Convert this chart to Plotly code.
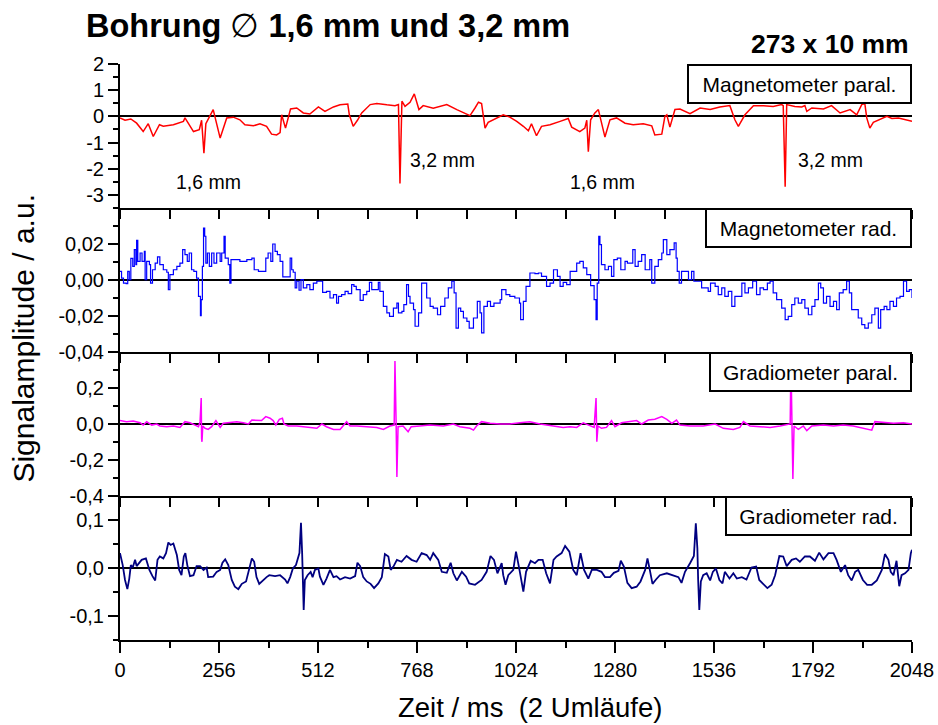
import plotly.graph_objects as go

# ---- Zeitachse / Achsen-Beschriftung ----
x_tickvals = [0, 256, 512, 768, 1024, 1280, 1536, 1792, 2048]
x_ticktext = ["0", "256", "512", "768", "1024", "1280", "1536", "1792", "2048"]

# ---- Magnetometer parallel (rot) ----
magpar_t = [0, 13, 28, 43, 60, 73, 86, 102, 112, 138, 164, 168, 190, 205, 211, 217, 222, 233, 241,
            259, 276, 293, 310, 323, 345, 362, 379, 392, 405, 414, 418, 428, 433, 441, 457, 474, 491,
            513, 530, 552, 569, 589, 593, 603, 614, 625, 647, 664, 690, 711, 720, 724, 729, 737, 750,
            761, 773, 784, 810, 845, 871, 888, 905, 918, 927, 935, 944, 952, 974, 991, 1008, 1026,
            1043, 1056, 1064, 1077, 1090, 1112, 1138, 1159, 1168, 1189, 1202, 1207, 1211, 1217, 1228,
            1237, 1254, 1267, 1284, 1306, 1327, 1353, 1375, 1383, 1401, 1409, 1414, 1422, 1435, 1448,
            1474, 1500, 1526, 1551, 1577, 1590, 1599, 1616, 1638, 1664, 1689, 1711, 1715, 1720, 1724,
            1745, 1763, 1771, 1776, 1789, 1819, 1840, 1862, 1888, 1905, 1918, 1926, 1931, 1939, 1948,
            1983, 1996, 2013, 2034, 2048]
magpar_v = [-0.06, -0.15, -0.10, -0.26, -0.58, -0.28, -0.77, -0.32, -0.38, -0.32, -0.19, -0.06, -0.58,
            -0.51, -0.15, -1.41, -0.28, 0.06, 0.26, -0.83, -0.06, -0.03, -0.13, -0.32, -0.36, -0.28,
            -0.38, -0.68, -0.71, -0.62, 0.06, -0.45, -0.19, 0.28, 0.32, 0.13, 0.09, 0.36, 0.19, 0.36,
            0.44, 0.47, 0.06, -0.38, -0.15, 0.13, 0.45, 0.49, 0.44, 0.41, 0.45, -2.56, 0.58, 0.38, 0.54,
            0.86, 0.26, 0.41, 0.31, 0.45, 0.26, 0.13, 0.03, 0.32, 0.54, 0.49, -0.45, -0.23, -0.06, 0.06,
            -0.03, -0.19, -0.38, -0.55, -0.28, -0.74, -0.38, -0.32, -0.19, -0.08, -0.41, -0.58, -0.45,
            -0.15, -1.35, -0.13, 0.13, 0.26, -0.79, -0.13, -0.06, -0.26, -0.32, -0.28, -0.36, -0.71,
            -0.68, 0.0, 0.06, -0.41, 0.26, 0.28, 0.10, 0.32, 0.26, 0.36, 0.41, -0.13, -0.38, 0.06, 0.41,
            0.41, 0.38, 0.45, 0.41, -2.69, 0.45, 0.38, 0.36, 0.41, 0.19, 0.32, 0.28, 0.41, 0.13, 0.26,
            0.06, 0.45, 0.49, -0.06, -0.45, -0.23, 0.0, -0.08, -0.06, -0.15, -0.19]

# ---- Magnetometer radial (blau) ----
magrad_t = [0, 4, 9, 16, 20, 24, 28, 33, 37, 41, 43, 46, 52, 57, 63, 65, 69, 76, 79, 84, 91, 97, 103,
            112, 121, 125, 129, 138, 147, 155, 162, 168, 174, 179, 185, 191, 198, 203, 208, 210, 213,
            216, 219, 222, 226, 231, 237, 243, 250, 259, 263, 269, 272, 280, 284, 287, 297, 310, 328,
            341, 347, 358, 371, 377, 383, 390, 395, 401, 407, 414, 421, 431, 440, 444, 448, 453, 457,
            463, 468, 474, 483, 491, 500, 509, 517, 524, 534, 543, 552, 560, 565, 573, 582, 590, 599,
            605, 611, 621, 629, 638, 645, 651, 662, 668, 672, 681, 690, 697, 703, 707, 716, 720, 729,
            734, 741, 746, 750, 759, 763, 772, 780, 789, 793, 802, 810, 821, 829, 840, 849, 858, 864,
            869, 875, 881, 888, 897, 903, 914, 924, 931, 935, 941, 950, 958, 967, 983, 987, 998, 1008,
            1021, 1033, 1036, 1043, 1050, 1060, 1073, 1082, 1090, 1103, 1112, 1121, 1131, 1138, 1146,
            1155, 1164, 1181, 1189, 1198, 1207, 1217, 1226, 1231, 1234, 1238, 1241, 1245, 1254, 1263,
            1271, 1277, 1286, 1295, 1306, 1312, 1326, 1332, 1340, 1349, 1358, 1370, 1375, 1383, 1392,
            1401, 1405, 1414, 1422, 1433, 1438, 1441, 1446, 1452, 1464, 1470, 1478, 1484, 1495, 1504,
            1513, 1521, 1527, 1539, 1547, 1556, 1564, 1573, 1582, 1590, 1599, 1608, 1616, 1625, 1636,
            1646, 1655, 1664, 1674, 1681, 1689, 1698, 1711, 1720, 1728, 1737, 1745, 1754, 1763, 1771,
            1780, 1789, 1797, 1806, 1812, 1819, 1827, 1836, 1845, 1853, 1860, 1870, 1879, 1886, 1892,
            1901, 1909, 1918, 1926, 1935, 1944, 1952, 1961, 1967, 1976, 1983, 1991, 2000, 2008, 2017,
            2026, 2034, 2041, 2048]
magrad_v = [0.0048, 0.0010, -0.0017, -0.0020, 0.0048, 0.0002, 0.0120, 0.0076, 0.0169, 0.0085, 0.0220,
            0.0104, 0.0150, 0.0104, 0.0159, 0.0002, 0.0104, 0.0085, -0.0017, 0.0057, 0.0094, 0.0128,
            0.0085, 0.0057, 0.0043, -0.0054, 0.0030, 0.0057, 0.0076, 0.0094, 0.0169, 0.0141, 0.0104,
            0.0150, 0.0057, 0.0048, 0.0010, -0.0091, -0.0198, -0.0109, 0.0076, 0.0289, 0.0243, 0.0094,
            0.0150, 0.0076, 0.0150, 0.0094, 0.0150, 0.0104, 0.0150, 0.0243, 0.0122, 0.0085, -0.0017,
            0.0113, 0.0113, 0.0104, 0.0113, 0.0122, 0.0057, 0.0048, 0.0048, 0.0122, 0.0150, 0.0104,
            0.0200, 0.0159, 0.0141, 0.0104, 0.0017, 0.0017, 0.0122, 0.0057, 0.0043, -0.0044, -0.0007,
            -0.0057, 0.0002, -0.0044, -0.0026, -0.0054, -0.0017, -0.0007, -0.0007, -0.0069, -0.0063,
            -0.0100, -0.0081, -0.0128, -0.0091, -0.0081, -0.0063, -0.0076, -0.0026, -0.0035, -0.0054,
            -0.0113, -0.0081, -0.0063, -0.0013, -0.0054, -0.0054, -0.0013, -0.0063, -0.0146, -0.0183,
            -0.0202, -0.0202, -0.0156, -0.0128, -0.0183, -0.0174, -0.0137, -0.0026, -0.0091, -0.0128,
            -0.0165, -0.0257, -0.0183, -0.0017, -0.0017, -0.0100, -0.0146, -0.0156, -0.0193, -0.0146,
            -0.0100, -0.0044, -0.0007, -0.0072, -0.0267, -0.0156, -0.0174, -0.0211, -0.0230, -0.0267,
            -0.0211, -0.0119, -0.0183, -0.0294, -0.0146, -0.0119, -0.0146, -0.0128, -0.0109, -0.0054,
            -0.0081, -0.0091, -0.0100, -0.0128, -0.0220, -0.0119, -0.0035, 0.0039, 0.0035, 0.0039,
            0.0020, -0.0035, -0.0017, 0.0057, 0.0020, -0.0035, -0.0013, -0.0026, 0.0048, 0.0094,
            0.0104, 0.0067, 0.0030, -0.0031, -0.0109, -0.0220, -0.0017, 0.0243, 0.0196, 0.0085, 0.0057,
            0.0076, 0.0020, 0.0113, 0.0122, 0.0057, 0.0104, 0.0094, 0.0169, 0.0076, 0.0104, 0.0141,
            0.0057, 0.0113, -0.0017, 0.0076, 0.0113, 0.0150, 0.0224, 0.0141, 0.0169, 0.0206, 0.0122,
            0.0048, -0.0017, 0.0048, 0.0048, 0.0002, 0.0048, -0.0007, -0.0007, -0.0044, -0.0044,
            -0.0063, -0.0017, -0.0035, -0.0081, -0.0044, -0.0091, -0.0063, -0.0146, -0.0091, -0.0091,
            -0.0017, -0.0072, -0.0044, -0.0007, -0.0081, -0.0044, -0.0054, -0.0017, -0.0007, -0.0072,
            -0.0109, -0.0156, -0.0220, -0.0202, -0.0137, -0.0100, -0.0128, -0.0109, -0.0156, -0.0193,
            -0.0146, -0.0109, -0.0017, -0.0044, -0.0128, -0.0091, -0.0146, -0.0119, -0.0165, -0.0072,
            -0.0054, -0.0007, -0.0072, -0.0165, -0.0165, -0.0211, -0.0248, -0.0267, -0.0239, -0.0193,
            -0.0156, -0.0267, -0.0165, -0.0146, -0.0165, -0.0119, -0.0146, -0.0100, -0.0091, -0.0007,
            -0.0063, -0.0054, -0.0100]

# ---- Gradiometer parallel (magenta) ----
gradpar_t = [0, 17, 34, 52, 60, 69, 82, 95, 103, 121, 138, 155, 168, 181, 194, 203, 207, 210, 211, 212,
             214, 220, 228, 237, 248, 259, 267, 284, 302, 319, 332, 341, 353, 366, 377, 388, 396, 403,
             412, 420, 424, 435, 457, 483, 509, 522, 534, 552, 569, 586, 595, 612, 638, 664, 681, 698,
             709, 711, 714, 716, 719, 732, 745, 753, 775, 801, 836, 862, 879, 905, 914, 922, 935, 957,
             983, 1008, 1034, 1060, 1086, 1103, 1121, 1146, 1164, 1181, 1198, 1215, 1226, 1231, 1233,
             1236, 1245, 1258, 1271, 1280, 1297, 1314, 1336, 1349, 1366, 1383, 1401, 1414, 1427, 1439,
             1448, 1474, 1508, 1539, 1560, 1586, 1603, 1612, 1629, 1655, 1681, 1707, 1733, 1735, 1738,
             1740, 1743, 1754, 1767, 1776, 1789, 1819, 1845, 1870, 1896, 1922, 1944, 1952, 1974, 2000,
             2026, 2048]
gradpar_v = [0.019, 0.013, 0.017, 0.007, -0.006, 0.013, -0.006, 0.0, -0.011, -0.015, -0.011, -0.019,
             0.013, 0.007, -0.006, -0.015, 0.013, 0.144, -0.080, -0.099, -0.011, -0.024, -0.030,
             -0.015, 0.019, -0.019, 0.004, 0.007, 0.013, 0.007, 0.0, 0.022, 0.022, 0.019, 0.041, 0.032,
             0.019, -0.006, 0.026, 0.032, 0.0, -0.011, -0.011, -0.019, -0.024, 0.0, -0.015, -0.030,
             -0.030, 0.013, -0.011, -0.011, -0.015, -0.019, -0.030, -0.011, -0.006, 0.350, 0.004,
             -0.295, -0.015, -0.011, -0.043, -0.015, -0.011, -0.006, -0.011, 0.0, -0.015, -0.024,
             -0.034, -0.011, 0.013, 0.004, 0.0, 0.0, 0.007, 0.013, 0.0, -0.006, -0.011, -0.019, -0.015,
             -0.019, 0.007, -0.011, -0.019, 0.144, -0.099, -0.011, -0.024, -0.019, 0.019, -0.015,
             0.007, 0.013, 0.019, 0.0, 0.022, 0.026, 0.041, 0.026, 0.004, 0.022, -0.006, -0.011, -0.011,
             0.0, -0.024, -0.030, -0.019, 0.013, -0.011, -0.015, -0.019, -0.011, 0.0, 0.340, 0.004,
             -0.305, -0.011, -0.030, -0.011, -0.037, -0.011, -0.006, -0.011, -0.006, -0.011, -0.024,
             -0.034, 0.013, 0.007, 0.004, 0.007, 0.0]

# ---- Gradiometer radial (dunkelblau) ----
gradrad_t = [0, 7, 13, 19, 24, 28, 33, 39, 43, 50, 56, 67, 76, 84, 91, 97, 103, 112, 119, 125, 131, 138,
             147, 153, 159, 165, 169, 174, 181, 190, 198, 207, 216, 224, 228, 241, 250, 259, 265, 272,
             280, 289, 297, 306, 315, 326, 334, 341, 347, 353, 360, 371, 379, 386, 401, 414, 427, 433,
             440, 447, 455, 464, 468, 471, 472, 475, 478, 485, 493, 498, 504, 513, 517, 526, 534, 543,
             552, 560, 569, 582, 595, 608, 614, 621, 629, 638, 648, 657, 668, 677, 685, 694, 700, 707,
             716, 728, 741, 754, 767, 780, 793, 802, 810, 823, 832, 845, 855, 862, 871, 884, 895, 903,
             918, 935, 948, 958, 967, 976, 987, 991, 997, 1004, 1017, 1024, 1033, 1039, 1043, 1050,
             1056, 1062, 1073, 1082, 1093, 1102, 1112, 1121, 1129, 1142, 1151, 1162, 1172, 1181, 1191,
             1200, 1211, 1220, 1233, 1245, 1254, 1267, 1277, 1289, 1295, 1303, 1312, 1323, 1336, 1346,
             1358, 1364, 1370, 1377, 1386, 1396, 1414, 1431, 1444, 1452, 1461, 1474, 1484, 1489, 1493,
             1495, 1498, 1502, 1508, 1517, 1526, 1533, 1541, 1550, 1558, 1564, 1576, 1586, 1595, 1608,
             1620, 1633, 1645, 1653, 1664, 1674, 1685, 1694, 1705, 1715, 1724, 1737, 1748, 1758, 1771,
             1784, 1797, 1808, 1819, 1832, 1845, 1853, 1864, 1875, 1883, 1892, 1901, 1909, 1921, 1932,
             1944, 1957, 1970, 1978, 1987, 1993, 2000, 2008, 2015, 2021, 2030, 2039, 2045, 2048]
gradrad_v = [0.031, 0.006, -0.025, -0.044, -0.022, 0.006, 0.001, 0.017, 0.004, 0.011, 0.017, 0.020,
             -0.004, -0.017, -0.026, 0.017, 0.024, 0.020, 0.031, 0.053, 0.048, 0.051, 0.027, -0.004,
             -0.015, 0.024, 0.031, 0.006, -0.017, -0.015, 0.004, 0.004, -0.004, 0.001, -0.019, -0.018,
             -0.008, -0.004, 0.011, 0.018, 0.006, -0.025, -0.039, -0.044, -0.033, -0.028, -0.001, 0.020,
             0.013, -0.019, -0.033, -0.024, -0.019, -0.015, -0.017, -0.015, -0.024, -0.032, -0.019,
             -0.001, 0.006, 0.031, 0.094, 0.031, -0.019, -0.0875, -0.025, -0.015, -0.008, -0.019,
             -0.004, -0.001, -0.018, -0.035, -0.022, -0.004, -0.019, -0.017, -0.024, -0.019, -0.022,
             -0.017, 0.011, 0.004, -0.019, -0.028, -0.033, -0.042, -0.032, -0.019, 0.029, 0.024,
             -0.004, 0.003, 0.017, 0.013, 0.025, 0.017, 0.013, 0.031, 0.027, 0.017, 0.031, 0.017,
             -0.008, -0.010, 0.011, -0.011, -0.026, -0.008, -0.018, -0.032, -0.035, -0.025, -0.008,
             0.025, 0.017, -0.011, 0.010, -0.015, -0.035, -0.015, -0.004, 0.034, -0.004, -0.032,
             -0.049, -0.008, 0.003, 0.015, 0.010, 0.017, 0.017, -0.011, -0.032, 0.017, 0.024, 0.031,
             0.046, 0.034, -0.004, -0.015, 0.031, -0.004, -0.022, -0.004, -0.004, -0.008, -0.019,
             -0.019, -0.010, -0.006, 0.015, 0.003, -0.031, -0.042, -0.039, -0.028, -0.004, 0.020,
             -0.004, -0.033, -0.024, -0.015, -0.011, -0.015, -0.019, -0.031, -0.008, 0.010, 0.025,
             0.093, 0.041, -0.024, -0.0875, -0.028, -0.015, -0.011, -0.026, -0.008, -0.001, -0.025,
             -0.032, -0.008, -0.022, -0.011, -0.022, -0.019, -0.024, 0.001, 0.003, -0.025, -0.033,
             -0.042, -0.035, -0.015, 0.025, 0.024, 0.004, 0.017, 0.020, 0.013, 0.024, 0.024, 0.015,
             0.032, 0.018, 0.031, 0.031, 0.017, -0.008, 0.006, -0.015, -0.026, -0.008, -0.004, -0.025,
             -0.035, -0.035, -0.026, -0.004, 0.029, 0.017, -0.008, -0.015, 0.015, -0.038, -0.015,
             -0.011, -0.004, 0.031, 0.038]

# ---- Panel-Definitionen ----
panel_names = ["Magnetometer paral.", "Magnetometer rad.", "Gradiometer paral.", "Gradiometer rad."]
panel_colors = ["#ff0000", "#0000ff", "#ff00ff", "#000080"]
panel_ranges = [[-3.5, 2], [-0.04, 0.04], [-0.4, 0.4], [-0.15, 0.15]]
panel_tickvals = [[-3, -2, -1, 0, 1, 2], [-0.04, -0.02, 0, 0.02], [-0.4, -0.2, 0, 0.2], [-0.1, 0, 0.1]]
panel_ticktext = [["-3", "-2", "-1", "0", "1", "2"], ["-0,04", "-0,02", "0,00", "0,02"],
                  ["-0,4", "-0,2", "0,0", "0,2"], ["-0,1", "0,0", "0,1"]]
panel_minor = [0.5, 0.01, 0.1, 0.05]
series_t = [magpar_t, magrad_t, gradpar_t, gradrad_t]
series_v = [magpar_v, magrad_v, gradpar_v, gradrad_v]
line_widths = [1.5, 1.2, 1.5, 1.8]
line_shapes = ["linear", "hv", "linear", "linear"]

# Bohrungs-Beschriftung im obersten Panel
hole_labels = ["1,6 mm", "3,2 mm", "1,6 mm", "3,2 mm"]
hole_label_t = [229, 833, 1248, 1836]
hole_label_v = [-2.51, -1.67, -2.51, -1.67]

FONT = "Liberation Sans, Arial, sans-serif"
TICK_SIZE = 20
fig = go.Figure()
n = 4
domains = [[0.75, 1.0], [0.5, 0.75], [0.25, 0.5], [0.0, 0.25]]

for i in range(n):
    k = i + 1
    xa = "x" if k == 1 else f"x{k}"
    ya = "y" if k == 1 else f"y{k}"
    fig.add_trace(go.Scatter(
        x=series_t[i], y=series_v[i], mode="lines", xaxis=xa, yaxis=ya,
        line=dict(color=panel_colors[i], width=line_widths[i], shape=line_shapes[i]),
        showlegend=False, hoverinfo="skip"))

layout = dict(
    width=938, height=725, autosize=False,
    margin=dict(l=120, r=26, t=64, b=85, autoexpand=False),
    paper_bgcolor="white", plot_bgcolor="white",
    font=dict(family=FONT, color="black", size=TICK_SIZE),
    showlegend=False,
    separators=",.",
)

for i in range(n):
    k = i + 1
    xkey = "xaxis" if k == 1 else f"xaxis{k}"
    ykey = "yaxis" if k == 1 else f"yaxis{k}"
    ya = "y" if k == 1 else f"y{k}"
    xa = "x" if k == 1 else f"x{k}"
    last = (k == n)
    xax = dict(
        domain=[0, 1], anchor=ya, range=[0, 2048], showgrid=False, zeroline=False,
        showline=True, linecolor="black", linewidth=2, automargin=False,
        ticks="outside", tickcolor="black", tickwidth=2,
    )
    if last:
        xax.update(tickvals=x_tickvals, ticktext=x_ticktext, ticklen=11,
                   showticklabels=True, tickfont=dict(size=TICK_SIZE),
                   minor=dict(dtick=128, tick0=0, ticks="outside", ticklen=6,
                              tickwidth=2, tickcolor="black"))
    else:
        xax.update(tickmode="linear", tick0=0, dtick=128, ticklen=9, showticklabels=False)
    layout[xkey] = xax

    layout[ykey] = dict(
        domain=domains[i], anchor=xa, range=panel_ranges[i], showgrid=False, automargin=False,
        zeroline=True, zerolinecolor="black", zerolinewidth=2,
        showline=True, linecolor="black", linewidth=2,
        ticks="outside", ticklen=10, tickwidth=2, tickcolor="black",
        tickvals=panel_tickvals[i], ticktext=panel_ticktext[i], tickfont=dict(size=TICK_SIZE),
        minor=dict(dtick=panel_minor[i], tick0=0, ticks="outside", ticklen=5,
                   tickwidth=2, tickcolor="black"),
    )
    # rechte Achse mit nach innen zeigenden Ticks
    layout[f"yaxis{k + 4}"] = dict(
        overlaying=ya, side="right", anchor=xa, range=panel_ranges[i], showgrid=False,
        automargin=False, zeroline=False, showline=True, linecolor="black", linewidth=2,
        ticks="inside", ticklen=10, tickwidth=2, tickcolor="black",
        tickvals=panel_tickvals[i], showticklabels=False,
        minor=dict(dtick=panel_minor[i], tick0=0, ticks="inside", ticklen=5,
                   tickwidth=2, tickcolor="black"),
    )

# obere Rahmenlinie mit Innenticks
layout["xaxis5"] = dict(
    overlaying="x", side="top", anchor="y", range=[0, 2048], showgrid=False, zeroline=False,
    automargin=False, showline=True, linecolor="black", linewidth=2, ticks="inside", ticklen=7,
    tickwidth=2, tickcolor="black", tickmode="linear", tick0=0, dtick=128, showticklabels=False,
)

annotations = []
# Legendenkästen
for i in range(n):
    annotations.append(dict(
        text=panel_names[i], xref="paper", yref="paper", x=1.0, y=domains[i][1],
        xanchor="right", yanchor="top", showarrow=False,
        font=dict(size=21, family=FONT, color="black"),
        bgcolor="white", bordercolor="black", borderwidth=2, borderpad=0,
        width=[221, 203, 199, 183][i], height=36,
    ))
for lbl, t, v in zip(hole_labels, hole_label_t, hole_label_v):
    annotations.append(dict(text=lbl, x=t, y=v, xref="x", yref="y", showarrow=False,
                            font=dict(size=19.5, family=FONT, color="black")))

annotations += [
    dict(text="<b>Bohrung</b> \u2205 <b>1,6 mm und 3,2 mm</b>", xref="paper", yref="paper",
         x=0.263, y=1.066, xanchor="center", yanchor="middle", showarrow=False,
         font=dict(size=32.5, family=FONT, color="black")),
    dict(text="<b>273 x 10 mm</b>", xref="paper", yref="paper", x=0.9985, y=1.035,
         xanchor="right", yanchor="middle", showarrow=False,
         font=dict(size=26.5, family=FONT, color="black")),
    dict(text="Signalamplitude / a.u.", xref="paper", yref="paper", x=-0.122, y=0.524,
         xanchor="center", yanchor="middle", textangle=-90, showarrow=False,
         font=dict(size=30, family=FONT, color="black")),
    dict(text="Zeit / ms \u00a0(2 Umläufe)", xref="paper", yref="paper", x=0.518, y=-0.118,
         xanchor="center", yanchor="middle", showarrow=False,
         font=dict(size=27.5, family=FONT, color="black")),
]
layout["annotations"] = annotations

fig.update_layout(**layout)
fig.write_html("out.html")
